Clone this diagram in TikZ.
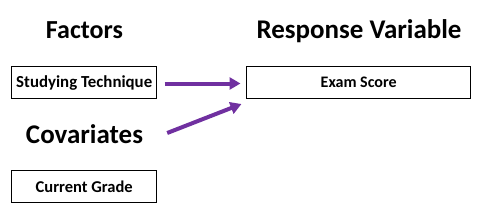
\documentclass[tikz,border=0pt]{standalone}
\usepackage{fontspec}
\usepackage{graphicx}
\setmainfont{Carlito}
\usetikzlibrary{arrows.meta}
\definecolor{arrowpurple}{HTML}{7030A0}
\newcommand{\fitw}[2]{\resizebox{#1}{!}{\bfseries #2}}
\begin{document}
\begin{tikzpicture}[x=1pt,y=-1pt,
  varbox/.style={draw=black, line width=1pt, inner sep=0pt, anchor=north, text height=21pt, text depth=11pt, font=\bfseries},
  heading/.style={inner sep=0pt, anchor=base, font=\bfseries},
  link/.style={draw=arrowpurple, line width=4pt, -{Triangle[length=11pt,width=12pt]}}]
\useasboundingbox (0,0) rectangle (480,212);
\node[heading] (factors) at (84.5,38) {\fitw{77pt}{Factors}};
\node[heading] (response) at (359,38) {\fitw{205pt}{Response Variable}};
\node[heading] (covariates) at (84.5,143) {\fitw{117pt}{Covariates}};
\node[varbox, minimum width=145pt] (study) at (84.2,66) {\fitw{136pt}{Studying Technique}};
\node[varbox, minimum width=224pt] (exam) at (358.7,66) {\fitw{76pt}{Exam Score}};
\node[varbox, minimum width=145pt, text height=22pt, text depth=10pt] (grade) at (84.2,170.3) {\fitw{97pt}{Current Grade}};
\draw[link] ([xshift=7.3pt,yshift=-1pt]study.east) -- ([xshift=-5.7pt,yshift=-1pt]exam.west);
\draw[link] ([xshift=24pt,yshift=10pt]covariates.base east) -- ([xshift=-4.7pt,yshift=-5pt]exam.south west);
\end{tikzpicture}
\end{document}
